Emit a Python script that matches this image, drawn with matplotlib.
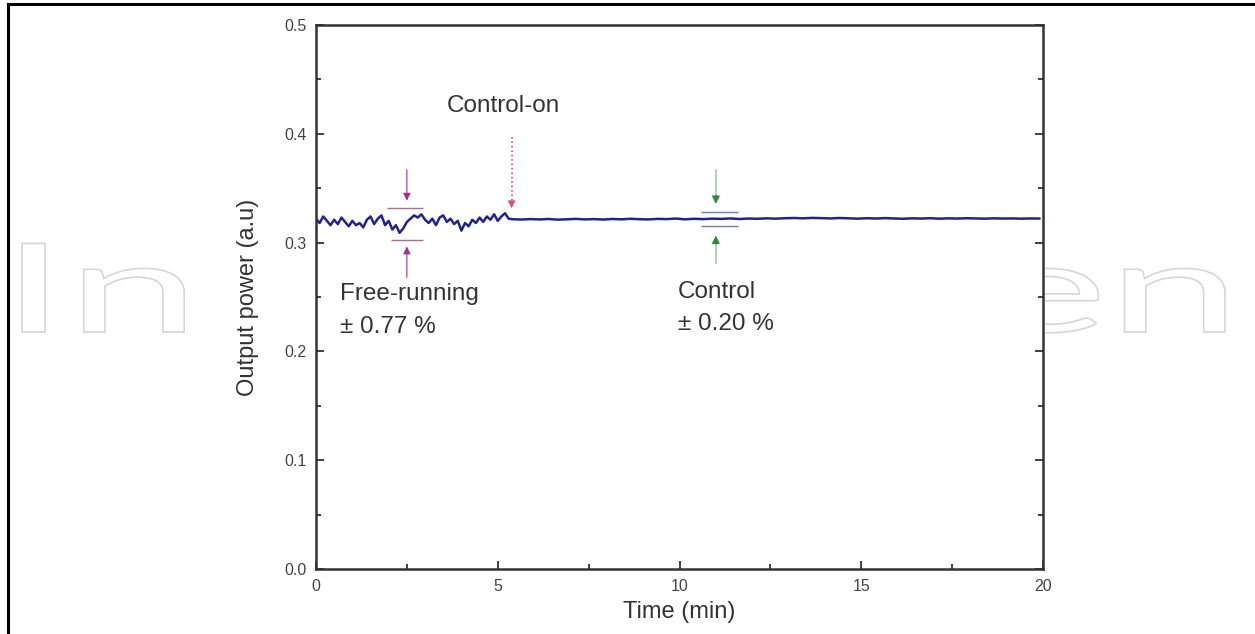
import numpy as np
import matplotlib
matplotlib.use("Agg")
import matplotlib.pyplot as plt
from matplotlib.textpath import TextPath
from matplotlib.patches import PathPatch, Rectangle
from matplotlib.font_manager import FontProperties
from matplotlib.transforms import Affine2D
from matplotlib.lines import Line2D

plt.rcParams['font.family'] = ['Liberation Sans', 'DejaVu Sans']

# free-running part (before control is switched on)
t_free = np.round(np.arange(0, 5.35, 0.1), 2)
p_free = [0.322, 0.318, 0.324, 0.320, 0.316, 0.321, 0.317, 0.323, 0.319, 0.315,
          0.320, 0.316, 0.318, 0.314, 0.321, 0.324, 0.317, 0.322, 0.325, 0.316,
          0.320, 0.312, 0.316, 0.309, 0.313, 0.319, 0.322, 0.325, 0.323, 0.326,
          0.321, 0.318, 0.322, 0.316, 0.323, 0.325, 0.319, 0.322, 0.317, 0.320,
          0.311, 0.318, 0.315, 0.321, 0.318, 0.323, 0.319, 0.324, 0.321, 0.326,
          0.320, 0.324, 0.327, 0.322]

# controlled part
t_ctrl = np.round(np.arange(5.4, 20.01, 0.25), 2)
p_ctrl = [0.3215, 0.3212, 0.3216, 0.3213, 0.3217, 0.3211, 0.3214, 0.3218, 0.3213, 0.3216,
          0.3212, 0.3217, 0.3214, 0.3219, 0.3215, 0.3213, 0.3218, 0.3216, 0.3221, 0.3214,
          0.3219, 0.3216, 0.3220, 0.3218, 0.3222, 0.3217, 0.3221, 0.3219, 0.3223, 0.3220,
          0.3224, 0.3226, 0.3223, 0.3227, 0.3225, 0.3222, 0.3226, 0.3223, 0.3220, 0.3224,
          0.3221, 0.3225, 0.3222, 0.3219, 0.3223, 0.3221, 0.3224, 0.3220, 0.3223, 0.3221,
          0.3224, 0.3222, 0.3220, 0.3223, 0.3221, 0.3222, 0.3220, 0.3222, 0.3221]

t = np.concatenate([t_free, t_ctrl])
p = np.concatenate([p_free, p_ctrl])

fig = plt.figure(figsize=(12.55, 6.34), dpi=100)

# watermark behind the plot
tp = TextPath((0, 0), "IntechOpen", size=1, prop=FontProperties(family='Lato'))
ext = tp.get_extents()
x0, x1 = 22 / 1255, 1225 / 1255
base, cap = (634 - 332) / 634, (634 - 243) / 634
sx = (x1 - x0) / ext.width
sy = (cap - base) / 0.72
tr = Affine2D().translate(-ext.x0, 0).scale(sx, sy).translate(x0, base) + fig.transFigure
fig.patches.append(PathPatch(tp, transform=tr, facecolor='white',
                             edgecolor='#d6d6d6', lw=1.2, zorder=0))
# the plot itself sits on a white block that hides the middle of the watermark
fig.patches.append(Rectangle((196 / 1255, 0), (1045 - 196) / 1255, 1 - 6 / 634,
                             transform=fig.transFigure, facecolor='white',
                             edgecolor='none', zorder=0.5))

# outer frame
fig.add_artist(Line2D([8 / 1255, 8 / 1255], [0, 1 - 4 / 634], transform=fig.transFigure,
                      color='black', lw=2.2))
fig.add_artist(Line2D([8 / 1255, 1], [1 - 4 / 634, 1 - 4 / 634], transform=fig.transFigure,
                      color='black', lw=2.2))

ax = fig.add_axes([316 / 1255, (634 - 569) / 634, (1043 - 316) / 1255, 544 / 634])
ax.set_facecolor('white')
ax.set_zorder(1)

ax.plot(t, p, color='#23238c', lw=1.8)

ax.set_xlim(0, 20)
ax.set_ylim(0, 0.5)
ax.set_xticks([0, 5, 10, 15, 20])
ax.set_xticks(np.arange(2.5, 20, 5), minor=True)
ax.set_yticks(np.arange(0, 0.51, 0.1))
ax.set_yticks(np.arange(0.05, 0.5, 0.1), minor=True)
ax.set_yticklabels(['0.0', '0.1', '0.2', '0.3', '0.4', '0.5'])
ax.tick_params(which='both', direction='in', right=True, labelsize=11.5,
               labelcolor='#444444', color='#333333', width=1.3, pad=7)
ax.tick_params(which='major', length=6)
ax.tick_params(which='minor', length=3.5)
for s in ax.spines.values():
    s.set_linewidth(1.8)
    s.set_color('#333333')

ax.set_xlabel('Time (min)', fontsize=17, color='#333333', labelpad=5)
ax.set_ylabel('Output power (a.u)', fontsize=17, color='#333333', labelpad=18)

# free-running spread markers
mag = '#a0308c'
ax.hlines([0.332, 0.302], [1.95, 2.05], [2.95, 2.95], color='#b06a90', lw=1.0)
ax.annotate('', xy=(2.5, 0.336), xytext=(2.5, 0.3695),
            arrowprops=dict(arrowstyle='-|>', color=mag, lw=0.8, mutation_scale=11))
ax.annotate('', xy=(2.5, 0.299), xytext=(2.5, 0.2655),
            arrowprops=dict(arrowstyle='-|>', color=mag, lw=0.8, mutation_scale=11))

# control-on marker
red = '#e0506e'
ax.plot([5.38, 5.38], [0.397, 0.338], ls=':', color=red, lw=1.2)
ax.annotate('', xy=(5.38, 0.329), xytext=(5.38, 0.340),
            arrowprops=dict(arrowstyle='-|>', color=red, lw=0.8, mutation_scale=11))

# controlled spread markers
grn = '#2f8a3c'
ax.hlines([0.328, 0.315], 10.6, 11.6, color='#7080a0', lw=1.0)
ax.plot([11.0, 11.0], [0.3667, 0.338], color='#a8d0a8', lw=1.3)
ax.plot([11.0, 11.0], [0.281, 0.304], color='#a8d0a8', lw=1.3)
ax.annotate('', xy=(11.0, 0.333), xytext=(11.0, 0.346),
            arrowprops=dict(arrowstyle='-|>', color=grn, lw=0.8, mutation_scale=12))
ax.annotate('', xy=(11.0, 0.309), xytext=(11.0, 0.296),
            arrowprops=dict(arrowstyle='-|>', color=grn, lw=0.8, mutation_scale=12))

txt = dict(fontsize=17.5, color='#333333', va='baseline', ha='left')
ax.text(3.6, 0.420, 'Control-on', **txt)
ax.text(0.66, 0.2472, 'Free-running', **txt)
ax.text(0.66, 0.2169, '± 0.77 %', **txt)
ax.text(9.96, 0.2491, 'Control', **txt)
ax.text(9.96, 0.2197, '± 0.20 %', **txt)

fig.savefig('out.png', dpi=100, facecolor='white')
